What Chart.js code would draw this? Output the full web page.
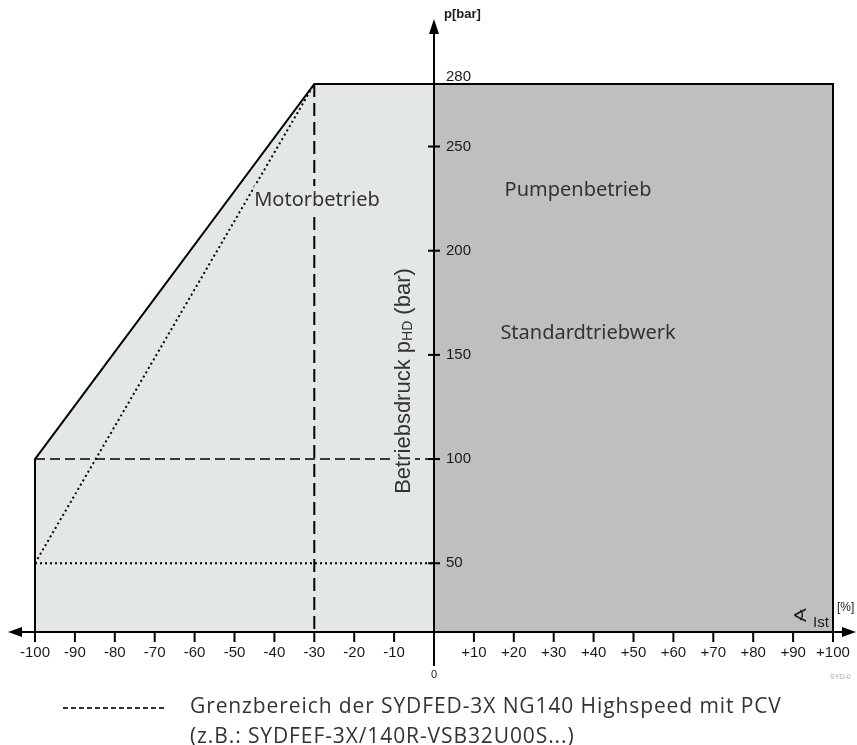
<!DOCTYPE html>
<html lang="de">
<head>
    <meta charset="UTF-8">
    <title>Betriebsbereich SYDFED</title>
    <script src="https://cdn.jsdelivr.net/npm/chart.js"></script>
    <style>
        html, body { margin: 0; padding: 0; background: #fff; }
        .chart-box { width: 857px; height: 745px; }
    </style>
</head>
<body>
    <div class="chart-box">
        <canvas id="betriebChart" width="857" height="745"></canvas>
    </div>

    <script>
        // Achsen
        const xTicks = [-100, -90, -80, -70, -60, -50, -40, -30, -20, -10, 10, 20, 30, 40, 50, 60, 70, 80, 90, 100];
        const xTickLabels = ['-100', '-90', '-80', '-70', '-60', '-50', '-40', '-30', '-20', '-10',
                             '+10', '+20', '+30', '+40', '+50', '+60', '+70', '+80', '+90', '+100'];
        const yTicks = [50, 100, 150, 200, 250, 280];
        const pAxis = 17;      // Druck, an dem die Schwenkwinkel-Achse liegt
        const pMax = 280;

        // Motorbetrieb (Schwenkwinkel %, Druck bar)
        const motorX = [-100, -100, -30, 0];
        const motorP = [pAxis, 100, 280, 280];
        // Pumpenbetrieb
        const pumpX = [0, 100];
        const pumpP = [280, 280];
        // Kontur
        const outlineX = [-100, -100, -30, 100, 100];
        const outlineP = [pAxis, 100, 280, 280, pAxis];
        // gestrichelt
        const dash100X = [-100, 0];
        const dash100P = [100, 100];
        const dashVertX = [-30, -30];
        const dashVertP = [280, pAxis];
        // Grenzbereich PCV (gepunktet)
        const pcvDiagX = [-100, -30];
        const pcvDiagP = [50, 280];
        const pcv50X = [-100, 0];
        const pcv50P = [50, 50];

        const pts = (xs, ys) => xs.map((x, i) => ({ x: x, y: ys[i] }));
        const motorFill = '#e4e7e8';
        const pumpFill = '#bdbfc1';

        const axisPlugin = {
            id: 'axisPlugin',
            afterDraw(chart) {
                const ctx = chart.ctx;
                const sx = chart.scales.x;
                const sy = chart.scales.y;
                const x0 = sx.getPixelForValue(0);
                const yA = sy.getPixelForValue(pAxis);

                ctx.save();
                ctx.strokeStyle = '#000';
                ctx.fillStyle = '#000';

                // Beschriftungen mit Hintergrund (unterbrechen die Hilfslinien)
                ctx.textBaseline = 'middle';
                ctx.textAlign = 'center';
                ctx.font = '20px "Noto Sans", sans-serif';
                const mw = ctx.measureText('Motorbetrieb').width;
                ctx.fillStyle = motorFill;
                ctx.fillRect(317 - mw / 2, 186, mw, 28);

                // gedrehte Beschriftung
                ctx.save();
                ctx.translate(404, 381);
                ctx.rotate(-Math.PI / 2);
                const big = '22px "Liberation Sans", Arial, sans-serif';
                const small = '14px "Liberation Sans", Arial, sans-serif';
                const parts = [['Betriebsdruck p', big, 0], ['HD', small, 4], [' (bar)', big, 0]];
                let total = 0;
                parts.forEach(p => { ctx.font = p[1]; total += ctx.measureText(p[0]).width; });
                ctx.fillStyle = motorFill;
                ctx.fillRect(-total / 2 - 2, -11, total + 4, 22);
                ctx.fillStyle = '#333';
                let cx = -total / 2;
                ctx.textAlign = 'left';
                parts.forEach(p => {
                    ctx.font = p[1];
                    ctx.fillText(p[0], cx, p[2]);
                    cx += ctx.measureText(p[0]).width;
                });
                ctx.restore();

                ctx.fillStyle = '#000';
                // x-Achse mit Pfeilen
                ctx.lineWidth = 2;
                ctx.beginPath();
                ctx.moveTo(14, yA);
                ctx.lineTo(849, yA);
                ctx.stroke();
                ctx.beginPath();
                ctx.moveTo(8, yA); ctx.lineTo(22, yA - 5); ctx.lineTo(22, yA + 5); ctx.closePath();
                ctx.fill();
                ctx.beginPath();
                ctx.moveTo(856, yA); ctx.lineTo(842, yA - 5); ctx.lineTo(842, yA + 5); ctx.closePath();
                ctx.fill();

                // y-Achse mit Pfeil
                ctx.beginPath();
                ctx.moveTo(x0, 666);
                ctx.lineTo(x0, 30);
                ctx.stroke();
                ctx.beginPath();
                ctx.moveTo(x0, 19); ctx.lineTo(x0 - 5, 34); ctx.lineTo(x0 + 5, 34); ctx.closePath();
                ctx.fill();

                // x-Ticks
                ctx.font = '15px "Liberation Sans", Arial, sans-serif';
                ctx.textAlign = 'center';
                ctx.fillStyle = '#1a1a1a';
                xTicks.forEach((v, i) => {
                    const px = sx.getPixelForValue(v);
                    ctx.beginPath();
                    ctx.moveTo(px, yA);
                    ctx.lineTo(px, yA + 10);
                    ctx.stroke();
                    ctx.fillText(xTickLabels[i], px, yA + 21);
                });
                ctx.font = '11px "Liberation Sans", Arial, sans-serif';
                ctx.fillText('0', x0, 675);

                // y-Ticks
                ctx.font = '15px "Liberation Sans", Arial, sans-serif';
                ctx.textAlign = 'left';
                yTicks.forEach(v => {
                    const py = sy.getPixelForValue(v);
                    if (v !== pMax) {
                        ctx.beginPath();
                        ctx.moveTo(x0 - 6, py);
                        ctx.lineTo(x0 + 6, py);
                        ctx.stroke();
                    }
                    ctx.fillText(String(v), x0 + 12, v === pMax ? py - 7 : py);
                });

                // Achsentitel
                ctx.font = 'bold 13px "Liberation Sans", Arial, sans-serif';
                ctx.fillText('p[bar]', x0 + 10, 14);
                ctx.font = '19px "DejaVu Sans", sans-serif';
                ctx.fillText('\u2222', 792, 617);
                ctx.font = '15px "Liberation Sans", Arial, sans-serif';
                ctx.fillText('Ist', 813, 623);
                ctx.font = '12px "Liberation Sans", Arial, sans-serif';
                ctx.fillText('[%]', 837, 608);

                // Bereichsbeschriftungen
                ctx.fillStyle = '#333';
                ctx.textAlign = 'center';
                ctx.font = '20px "Noto Sans", sans-serif';
                ctx.fillText('Motorbetrieb', 317, 200);
                ctx.fillText('Pumpenbetrieb', 578, 190);
                ctx.fillText('Standardtriebwerk', 588, 333);

                // kleine Kennung
                ctx.fillStyle = '#aaa';
                ctx.font = '7px "Liberation Sans", Arial, sans-serif';
                ctx.textAlign = 'left';
                ctx.fillText('SYD-0', 830, 677);

                // Legende
                ctx.strokeStyle = '#333';
                ctx.lineWidth = 2;
                ctx.setLineDash([5, 3]);
                ctx.beginPath();
                ctx.moveTo(63, 708);
                ctx.lineTo(166, 708);
                ctx.stroke();
                ctx.setLineDash([]);
                ctx.fillStyle = '#333';
                ctx.font = '21px "Open Sans", sans-serif';
                ctx.letterSpacing = '0.9px';
                ctx.fillText('Grenzbereich der SYDFED-3X NG140 Highspeed mit PCV', 190, 707);
                ctx.fillText('(z.B.: SYDFEF-3X/140R-VSB32U00S...)', 190, 737);

                ctx.restore();
            }
        };

        const ctx = document.getElementById('betriebChart').getContext('2d');
        new Chart(ctx, {
            type: 'scatter',
            data: {
                datasets: [
                    {   // Kontur
                        data: pts(outlineX, outlineP), showLine: true, borderColor: '#000', borderWidth: 2,
                        pointRadius: 0, fill: false, order: 1
                    },
                    {
                        data: pts(dashVertX, dashVertP), showLine: true, borderColor: '#000', borderWidth: 2,
                        borderDash: [13, 6], pointRadius: 0, fill: false, order: 2
                    },
                    {
                        data: pts(dash100X, dash100P), showLine: true, borderColor: '#000', borderWidth: 1.5,
                        borderDash: [10, 5], pointRadius: 0, fill: false, order: 2
                    },
                    {
                        data: pts(pcvDiagX, pcvDiagP), showLine: true, borderColor: '#000', borderWidth: 2,
                        borderDash: [2, 3], pointRadius: 0, fill: false, order: 2
                    },
                    {
                        data: pts(pcv50X, pcv50P), showLine: true, borderColor: '#000', borderWidth: 2,
                        borderDash: [2, 3], pointRadius: 0, fill: false, order: 2
                    },
                    {   // Motorbetrieb
                        data: pts(motorX, motorP), showLine: true, borderWidth: 0, pointRadius: 0,
                        backgroundColor: motorFill, fill: 'start', order: 10
                    },
                    {   // Pumpenbetrieb
                        data: pts(pumpX, pumpP), showLine: true, borderWidth: 0, pointRadius: 0,
                        backgroundColor: pumpFill, fill: 'start', order: 10
                    }
                ]
            },
            options: {
                responsive: false,
                animation: false,
                clip: false,
                layout: { padding: { left: 35, right: 24, top: 84, bottom: 113 } },
                plugins: { legend: { display: false }, tooltip: { enabled: false } },
                scales: {
                    x: { type: 'linear', min: -100, max: 100, display: false },
                    y: { type: 'linear', min: pAxis, max: pMax, display: false }
                }
            },
            plugins: [axisPlugin]
        });
    </script>
</body>
</html>
